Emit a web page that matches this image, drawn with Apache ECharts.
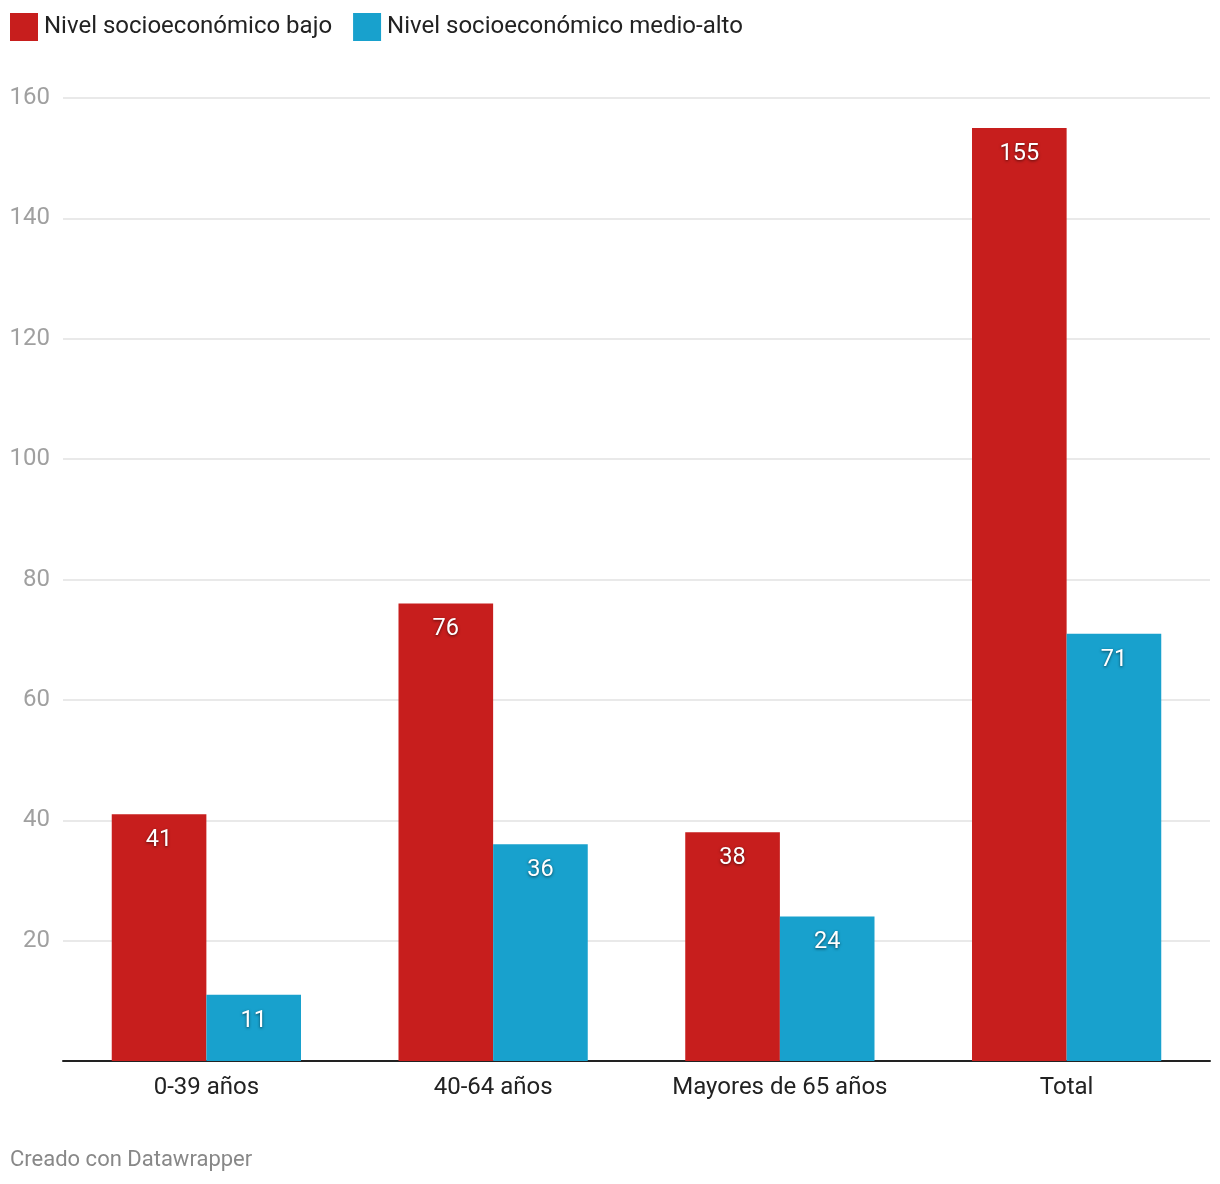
<!DOCTYPE html>
<html><head><meta charset="utf-8">
<script src="https://cdn.jsdelivr.net/npm/echarts@6/dist/echarts.min.js"></script>
<style>html,body{margin:0;padding:0;background:#fff}#c{width:1220px;height:1184px}</style>
</head><body><div id="c"></div>
<script>
const categories = ['0-39 años', '40-64 años', 'Mayores de 65 años', 'Total'];
const seriesNames = ['Nivel socioeconómico bajo', 'Nivel socioeconómico medio-alto'];
const lowValues = [41, 76, 38, 155];
const highValues = [11, 36, 24, 71];
const yTicks = [0, 20, 40, 60, 80, 100, 120, 140, 160];

const chart = echarts.init(document.getElementById('c'));
const font = 'Roboto, "Noto Sans", sans-serif';
const labelStyle = {
  show: true, position: 'insideTop', distance: 14, color: '#fff', fontSize: 23.5, fontFamily: font,
  textShadowColor: 'rgba(0,0,0,0.6)', textShadowBlur: 3, textShadowOffsetY: 1
};
chart.setOption({
  animation: false,
  textStyle: { fontFamily: font },
  legend: {
    left: 10, top: 13, padding: 0, itemWidth: 28, itemHeight: 28, itemGap: 21, icon: 'rect',
    textStyle: { fontSize: 24, color: '#222', fontFamily: font, padding: [0, 0, 0, 1] },
    data: seriesNames
  },
  graphic: [{ type: 'text', left: 10, top: 1149, style: { text: 'Creado con Datawrapper', fill: '#888', fontSize: 22, fontFamily: font } }],
  grid: { left: 63, right: 10, top: 98, bottom: 123, containLabel: false },
  xAxis: {
    type: 'category', data: categories,
    axisLine: { lineStyle: { color: '#222', width: 2 } },
    axisTick: { show: false },
    axisLabel: { color: '#222', fontSize: 24, margin: 15, fontFamily: font }
  },
  yAxis: {
    type: 'value', min: yTicks[0], max: yTicks[yTicks.length - 1], interval: 20,
    axisLine: { show: false }, axisTick: { show: false },
    splitLine: { lineStyle: { color: '#e2e2e2', width: 1.5 } },
    axisLabel: { color: '#a0a0a0', fontSize: 24, margin: 13, fontFamily: font, formatter: v => v === 0 ? '' : String(v) }
  },
  series: [
    { name: seriesNames[0], type: 'bar', data: lowValues, itemStyle: { color: '#c71e1d' }, barGap: '0%', barCategoryGap: '34%', label: labelStyle },
    { name: seriesNames[1], type: 'bar', data: highValues, itemStyle: { color: '#18a1cd' }, barGap: '0%', barCategoryGap: '34%', label: labelStyle }
  ]
});
</script></body></html>
